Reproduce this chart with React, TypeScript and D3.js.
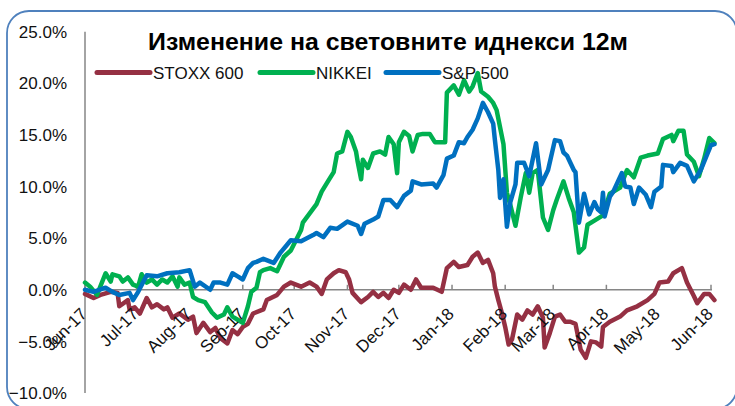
import React from "react";
import * as d3 from "d3";

const title = "Изменение на световните иднекси 12м";
const seriesNames = ["STOXX 600", "NIKKEI", "S&P 500"];
const seriesColors = ["#953043", "#00B050", "#0070C0"];
const yTicks = [-10, -5, 0, 5, 10, 15, 20, 25];
const monthTicks = [
  "2017-06-01", "2017-07-01", "2017-08-01", "2017-09-01", "2017-10-01", "2017-11-01", "2017-12-01",
  "2018-01-01", "2018-02-01", "2018-03-01", "2018-04-01", "2018-05-01", "2018-06-01",
];

const stoxxDates = [
  "2017-06-01","2017-06-06","2017-06-10","2017-06-16","2017-06-20","2017-06-21","2017-06-26","2017-06-27","2017-06-30","2017-07-03",
  "2017-07-07","2017-07-10","2017-07-13","2017-07-17","2017-07-19","2017-07-22","2017-07-26","2017-07-31","2017-08-03","2017-08-05",
  "2017-08-09","2017-08-13","2017-08-16","2017-08-19","2017-08-23","2017-08-26","2017-08-29","2017-09-01","2017-09-04","2017-09-07",
  "2017-09-13","2017-09-15","2017-09-21","2017-09-25","2017-09-29","2017-10-05","2017-10-10","2017-10-14","2017-10-17","2017-10-20",
  "2017-10-24","2017-10-27","2017-10-31","2017-11-02","2017-11-04","2017-11-09","2017-11-13","2017-11-16","2017-11-19","2017-11-22",
  "2017-11-25","2017-11-28","2017-12-01","2017-12-04","2017-12-08","2017-12-11","2017-12-14","2017-12-21","2017-12-26","2017-12-29",
  "2018-01-02","2018-01-05","2018-01-10","2018-01-13","2018-01-16","2018-01-19","2018-01-22","2018-01-25","2018-01-26","2018-01-28",
  "2018-01-30","2018-02-01","2018-02-03","2018-02-05","2018-02-08","2018-02-11","2018-02-14","2018-02-17","2018-02-20","2018-02-23",
  "2018-02-24","2018-02-27","2018-03-02","2018-03-05","2018-03-08","2018-03-11","2018-03-14","2018-03-17","2018-03-20","2018-03-23",
  "2018-03-26","2018-03-29","2018-03-30","2018-04-03","2018-04-09","2018-04-13","2018-04-19","2018-04-25","2018-04-29","2018-05-02",
  "2018-05-07","2018-05-10","2018-05-15","2018-05-18","2018-05-22","2018-05-24","2018-05-28","2018-05-31","2018-06-03",
];
const stoxxValues = [
  -0.4, -0.8, -0.5, -0.2, -0.3, -1.6, -1.0, -1.9, -1.7, -2.3,
  -0.8, -1.7, -1.4, -1.9, -1.7, -2.7, -2.3, -2.9, -2.6, -4.2,
  -3.2, -4.1, -3.7, -4.7, -5.2, -3.9, -4.3, -3.6, -3.3, -2.3,
  -1.9, -1.0, -0.5, 0.3, 0.7, 0.3, 0.7, 0.3, -0.4, 1.0,
  1.6, 1.9, 1.7, 1.0, -0.3, -1.2, -0.7, -0.2, -0.7, -0.3,
  -0.8, 0.0, -0.3, 0.5, 0.0, 1.0, 0.2, 0.2, -0.2, 2.1,
  2.7, 2.2, 2.4, 3.2, 3.6, 2.6, 2.9, 1.6, 0.3, -1.0,
  -2.2, -3.6, -5.3, -4.8, -2.4, -2.9, -2.0, -2.4, -1.6, -2.7,
  -5.6, -4.2, -2.6, -2.4, -3.1, -3.1, -3.3, -5.8, -6.6, -5.0,
  -5.1, -5.5, -3.6, -3.1, -2.6, -2.0, -1.6, -1.0, -0.4, 0.7,
  0.8, 1.6, 2.1, 0.7, -0.6, -1.3, -0.4, -0.4, -1.0,
];

const nikkeiDates = [
  "2017-06-01","2017-06-04","2017-06-08","2017-06-13","2017-06-16","2017-06-17","2017-06-21","2017-06-23","2017-06-26","2017-06-29",
  "2017-07-02","2017-07-04","2017-07-07","2017-07-10","2017-07-13","2017-07-16","2017-07-19","2017-07-22","2017-07-25","2017-07-26",
  "2017-07-29","2017-08-01","2017-08-03","2017-08-06","2017-08-10","2017-08-14","2017-08-17","2017-08-21","2017-08-23","2017-08-26",
  "2017-08-29","2017-09-01","2017-09-04","2017-09-06","2017-09-09","2017-09-11","2017-09-13","2017-09-17","2017-09-21","2017-09-25",
  "2017-09-29","2017-10-05","2017-10-06","2017-10-10","2017-10-14","2017-10-17","2017-10-21","2017-10-24","2017-10-26","2017-10-29",
  "2017-11-01","2017-11-03","2017-11-06","2017-11-07","2017-11-09","2017-11-10","2017-11-13","2017-11-16","2017-11-20","2017-11-23",
  "2017-11-25","2017-11-28","2017-11-30","2017-12-01","2017-12-04","2017-12-07","2017-12-09","2017-12-12","2017-12-15","2017-12-19",
  "2017-12-22","2017-12-28","2017-12-29","2018-01-02","2018-01-05","2018-01-08","2018-01-11","2018-01-13","2018-01-16","2018-01-18",
  "2018-01-22","2018-01-25","2018-01-27","2018-01-31","2018-02-02","2018-02-04","2018-02-07","2018-02-10","2018-02-13","2018-02-15",
  "2018-02-17","2018-02-20","2018-02-23","2018-02-26","2018-03-01","2018-03-03","2018-03-07","2018-03-10","2018-03-13","2018-03-16",
  "2018-03-19","2018-03-21","2018-03-25","2018-03-30","2018-04-03","2018-04-09","2018-04-13","2018-04-17","2018-04-21","2018-04-25",
  "2018-05-01","2018-05-04","2018-05-09","2018-05-10","2018-05-13","2018-05-16","2018-05-18","2018-05-22","2018-05-25","2018-05-28",
  "2018-05-31","2018-06-03",
];
const nikkeiValues = [
  0.7, 0.3, -0.5, 1.6, 0.8, 1.5, 1.3, 0.8, 1.2, 0.5,
  0.3, 1.5, 0.7, 1.0, 0.5, 1.0, 0.7, 1.3, 0.3, 1.2,
  0.5, 0.7, -0.7, -1.0, -1.2, -2.2, -2.7, -2.4, -1.7, -2.6,
  -2.9, -3.2, -1.6, -0.2, 0.2, 1.7, 1.9, 2.1, 1.8, 3.2,
  3.8, 5.8, 6.5, 7.4, 8.3, 9.5, 10.6, 11.4, 13.2, 13.4,
  15.3, 14.8, 13.4, 12.4, 10.7, 12.6, 11.8, 13.2, 13.4, 13.1,
  14.8, 14.1, 11.3, 14.3, 15.3, 14.9, 13.4, 15.0, 15.1, 15.1,
  14.3, 14.3, 19.1, 19.8, 18.9, 20.3, 19.2, 19.7, 21.0, 19.2,
  18.7, 18.1, 17.4, 14.1, 9.4, 8.2, 6.2, 8.9, 11.3, 9.4,
  11.3, 11.6, 7.0, 5.8, 7.7, 8.7, 10.5, 8.9, 7.5, 3.6,
  4.1, 6.3, 6.7, 7.2, 9.3, 9.9, 11.6, 10.9, 12.8, 13.0,
  13.2, 14.6, 15.0, 14.4, 15.4, 15.4, 13.1, 12.4, 11.0, 12.7,
  14.7, 14.2,
];

const spDates = [
  "2017-06-01","2017-06-06","2017-06-13","2017-06-17","2017-06-21","2017-06-27","2017-06-29","2017-07-02","2017-07-07","2017-07-13",
  "2017-07-19","2017-07-26","2017-08-01","2017-08-04","2017-08-07","2017-08-13","2017-08-15","2017-08-19","2017-08-23","2017-08-26",
  "2017-08-29","2017-09-01","2017-09-04","2017-09-07","2017-09-09","2017-09-13","2017-09-19","2017-09-23","2017-09-29","2017-10-05",
  "2017-10-12","2017-10-14","2017-10-18","2017-10-22","2017-10-26","2017-11-01","2017-11-07","2017-11-09","2017-11-11","2017-11-16",
  "2017-11-19","2017-11-22","2017-11-26","2017-11-30","2017-12-04","2017-12-08","2017-12-09","2017-12-14","2017-12-21","2017-12-23",
  "2017-12-27","2017-12-29","2018-01-02","2018-01-05","2018-01-08","2018-01-10","2018-01-13","2018-01-16","2018-01-19","2018-01-22",
  "2018-01-25","2018-01-26","2018-01-28","2018-01-29","2018-01-31","2018-02-02","2018-02-04","2018-02-07","2018-02-08","2018-02-12",
  "2018-02-15","2018-02-19","2018-02-22","2018-02-26","2018-03-02","2018-03-05","2018-03-07","2018-03-09","2018-03-13","2018-03-14",
  "2018-03-16","2018-03-19","2018-03-22","2018-03-25","2018-03-27","2018-03-29","2018-03-30","2018-03-31","2018-04-03","2018-04-05",
  "2018-04-10","2018-04-12","2018-04-15","2018-04-17","2018-04-20","2018-04-24","2018-04-27","2018-04-29","2018-05-03","2018-05-04",
  "2018-05-09","2018-05-10","2018-05-14","2018-05-18","2018-05-22","2018-05-26","2018-05-30","2018-06-01","2018-06-03",
];
const spValues = [
  0.0, -0.2, 0.2, -0.2, -0.5, -0.3, -1.0, -0.2, 1.4, 1.3,
  1.6, 1.7, 1.9, 0.3, 0.7, 0.0, 0.7, 0.7, 0.5, 1.6,
  1.3, 1.0, 2.1, 2.6, 2.7, 3.0, 2.6, 3.6, 4.8, 4.7,
  5.3, 5.5, 5.1, 6.0, 5.9, 6.6, 6.2, 5.4, 6.4, 6.8,
  7.1, 8.7, 8.7, 8.0, 9.1, 9.6, 10.5, 10.2, 10.3, 9.9,
  11.1, 12.7, 13.0, 14.3, 14.2, 14.8, 15.5, 16.6, 18.1, 17.2,
  16.1, 14.5, 11.6, 8.9, 10.7, 6.1, 8.5, 10.2, 12.3, 12.3,
  11.0, 14.2, 10.2, 11.6, 14.5, 14.4, 13.3, 13.0, 11.6, 11.4,
  6.5, 9.3, 7.3, 8.5, 7.8, 7.5, 9.4, 7.1, 9.0, 9.5,
  11.3, 10.0, 9.9, 8.3, 9.9, 9.2, 8.0, 9.5, 10.0, 12.1,
  12.0, 11.4, 12.3, 12.0, 10.5, 11.6, 13.2, 14.0, 14.1,
];

const parse = d3.timeParse("%Y-%m-%d");
const fmtMonth = d3.timeFormat("%b-%y");
const fmtPct = (v: number) => d3.format(".1f")(v) + "%";

type Pt = { date: Date; value: number };
function zip(dates: string[], values: number[]): Pt[] {
  const n = Math.min(dates.length, values.length);
  const out: Pt[] = [];
  for (let i = 0; i < n; i++) out.push({ date: parse(dates[i]) as Date, value: values[i] });
  return out;
}

const seriesData = [zip(stoxxDates, stoxxValues), zip(nikkeiDates, nikkeiValues), zip(spDates, spValues)];

const FONT = "'Liberation Sans', Arial, sans-serif";

export default function App() {
  const W = 735;
  const H = 406;
  const left = 85;
  const x = d3
    .scaleTime()
    .domain([parse(monthTicks[0]) as Date, parse(monthTicks[monthTicks.length - 1]) as Date])
    .range([left, 711]);
  const y = d3.scaleLinear().domain([-10, 25]).range([393, 31.7]);
  const line = d3
    .line<Pt>()
    .x((d) => x(d.date))
    .y((d) => y(d.value));

  const legendX = [97, 260, 386];
  const legendLen = 53;

  return (
    <svg
      width={W}
      height={H}
      style={{ position: "absolute", left: 0, top: 0, background: "#fff" }}
      fontFamily={FONT}
    >
      <rect x={0} y={0} width={W} height={H} fill="#fff" />
      <rect x={7} y={11} width={730} height={398} rx={22} ry={22} fill="none" stroke="#4F81BD" strokeWidth={1.8} />

      {/* axes */}
      <line x1={left} x2={left} y1={y(25)} y2={y(-10)} stroke="#868686" strokeWidth={1.5} />
      <line x1={left} x2={x(parse(monthTicks[monthTicks.length - 1]) as Date) + 1} y1={y(0)} y2={y(0)} stroke="#868686" strokeWidth={1.5} />
      {monthTicks.map((m) => {
        const xx = x(parse(m) as Date);
        return <line key={"t" + m} x1={xx} x2={xx} y1={y(0)} y2={y(0) - 5} stroke="#868686" strokeWidth={1.5} />;
      })}

      {/* y labels */}
      {yTicks.map((t) => (
        <text key={"y" + t} x={67} y={y(t)} dy="0.36em" textAnchor="end" fontSize={17} fill="#111">
          {fmtPct(t)}
        </text>
      ))}

      {/* series */}
      {seriesData.map((data, i) => (
        <path
          key={"s" + i}
          d={line(data) || ""}
          fill="none"
          stroke={seriesColors[i]}
          strokeWidth={4.5}
          strokeLinejoin="round"
          strokeLinecap="round"
        />
      ))}

      {/* x labels */}
      {monthTicks.map((m) => {
        const xx = x(parse(m) as Date) + 3;
        const yy = 315;
        return (
          <text
            key={"x" + m}
            x={xx}
            y={yy}
            textAnchor="end"
            fontSize={17}
            fill="#111"
            transform={`rotate(-45 ${xx} ${yy})`}
          >
            {fmtMonth(parse(m) as Date)}
          </text>
        );
      })}

      {/* title */}
      <text
        x={148}
        y={50}
        fontSize={23}
        fontWeight="bold"
        fill="#000"
        textLength={480}
        lengthAdjust="spacingAndGlyphs"
      >
        {title}
      </text>

      {/* legend */}
      {seriesNames.map((n, i) => (
        <g key={"l" + n}>
          <line
            x1={legendX[i]}
            x2={legendX[i] + legendLen}
            y1={72.5}
            y2={72.5}
            stroke={seriesColors[i]}
            strokeWidth={5}
            strokeLinecap="round"
          />
          <text x={legendX[i] + legendLen + 3} y={79} fontSize={17} fill="#111">
            {n}
          </text>
        </g>
      ))}
    </svg>
  );
}
